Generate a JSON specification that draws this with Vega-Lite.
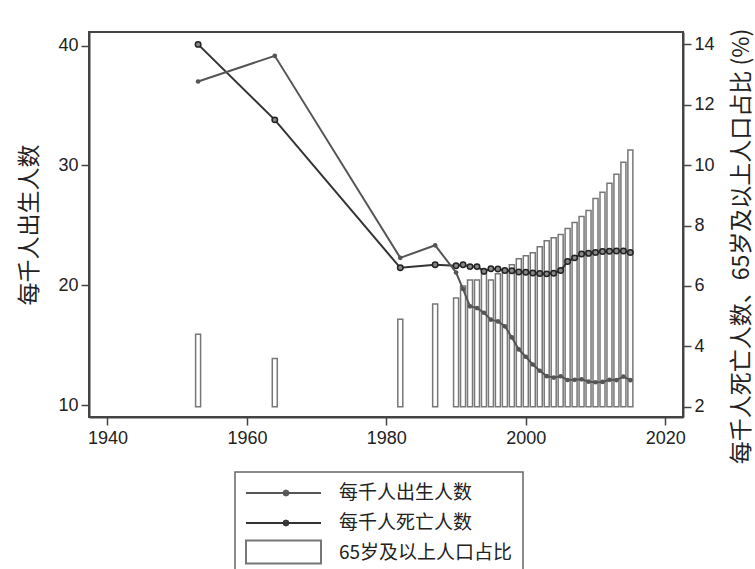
{
  "$schema": "https://vega.github.io/schema/vega-lite/v6.json",
  "autosize": {"type": "none"},
  "padding": {"left": 89, "top": 32, "right": 72, "bottom": 152},
  "width": 594,
  "height": 385,
  "background": "white",
  "config": {
    "view": {"stroke": "#444", "strokeWidth": 2},
    "axis": {
      "grid": false,
      "domainColor": "#444",
      "domainWidth": 2,
      "tickColor": "#444",
      "tickWidth": 1.5,
      "tickSize": 8,
      "labelFont": "Liberation Sans",
      "labelFontSize": 18,
      "labelColor": "#222",
      "titleFont": "Noto Sans CJK SC",
      "titleFontSize": 23,
      "titleFontWeight": "normal",
      "titleColor": "#222"
    },
    "legend": {"strokeWidth": 1.5}
  },
  "data": {
    "values": [
      {"year": 1953, "birth": 37.0, "death": 14.0, "pct": 4.4},
      {"year": 1964, "birth": 39.14, "death": 11.5, "pct": 3.6},
      {"year": 1982, "birth": 22.28, "death": 6.6, "pct": 4.9},
      {"year": 1987, "birth": 23.33, "death": 6.7, "pct": 5.4},
      {"year": 1990, "birth": 21.06, "death": 6.67, "pct": 5.6},
      {"year": 1991, "birth": 19.68, "death": 6.7, "pct": 6.0},
      {"year": 1992, "birth": 18.24, "death": 6.64, "pct": 6.2},
      {"year": 1993, "birth": 18.09, "death": 6.64, "pct": 6.2},
      {"year": 1994, "birth": 17.7, "death": 6.49, "pct": 6.4},
      {"year": 1995, "birth": 17.12, "death": 6.57, "pct": 6.2},
      {"year": 1996, "birth": 16.98, "death": 6.56, "pct": 6.4},
      {"year": 1997, "birth": 16.57, "death": 6.51, "pct": 6.5},
      {"year": 1998, "birth": 15.64, "death": 6.5, "pct": 6.7},
      {"year": 1999, "birth": 14.64, "death": 6.46, "pct": 6.9},
      {"year": 2000, "birth": 14.03, "death": 6.45, "pct": 7.0},
      {"year": 2001, "birth": 13.38, "death": 6.43, "pct": 7.1},
      {"year": 2002, "birth": 12.86, "death": 6.41, "pct": 7.3},
      {"year": 2003, "birth": 12.41, "death": 6.4, "pct": 7.5},
      {"year": 2004, "birth": 12.29, "death": 6.42, "pct": 7.6},
      {"year": 2005, "birth": 12.4, "death": 6.51, "pct": 7.7},
      {"year": 2006, "birth": 12.09, "death": 6.81, "pct": 7.9},
      {"year": 2007, "birth": 12.1, "death": 6.93, "pct": 8.1},
      {"year": 2008, "birth": 12.14, "death": 7.06, "pct": 8.3},
      {"year": 2009, "birth": 11.95, "death": 7.08, "pct": 8.5},
      {"year": 2010, "birth": 11.9, "death": 7.11, "pct": 8.9},
      {"year": 2011, "birth": 11.93, "death": 7.14, "pct": 9.1},
      {"year": 2012, "birth": 12.1, "death": 7.15, "pct": 9.4},
      {"year": 2013, "birth": 12.08, "death": 7.16, "pct": 9.7},
      {"year": 2014, "birth": 12.37, "death": 7.16, "pct": 10.1},
      {"year": 2015, "birth": 12.07, "death": 7.11, "pct": 10.5}
    ]
  },
  "encoding": {
    "x": {
      "field": "year",
      "type": "quantitative",
      "scale": {"domain": [1938.07, 2021.83], "nice": false, "zero": false},
      "axis": {"values": [1940, 1960, 1980, 2000, 2020], "format": "d", "title": null, "labelPadding": 4}
    }
  },
  "layer": [
    {
      "layer": [
        {
          "mark": {"type": "bar", "width": 5, "strokeWidth": 1.5},
          "encoding": {
            "y": {
              "field": "pct",
              "type": "quantitative",
              "title": "每千人死亡人数、65岁及以上人口占比 (%)",
              "scale": {"domain": [1.66, 14.41], "nice": false, "zero": false},
              "axis": {
                "orient": "right",
                "values": [2, 4, 6, 8, 10, 12, 14],
                "titleAngle": 270,
                "titleBaseline": "top",
                "titlePadding": 16,
                "labelPadding": 3,
                "titleY": 214
              }
            },
            "y2": {"datum": 2},
            "stroke": {
              "datum": "65岁及以上人口占比",
              "type": "nominal",
              "scale": {
                "domain": ["每千人出生人数", "每千人死亡人数", "65岁及以上人口占比"],
                "range": ["#555555", "#333333", "#777777"]
              },
              "legend": {
                "orient": "none",
                "legendX": 146,
                "legendY": 440,
                "zindex": 1,
                "title": null,
                "padding": 10,
                "strokeColor": "#666",
                "fillColor": "white",
                "symbolType": "M-1,0L6.5,0M3.25,0L3.18,0.18L3,0.25L2.82,0.18L2.75,0L2.82,-0.18L3,-0.25L3.18,-0.18Z",
                "symbolSize": 400,
                "symbolFillColor": "#555",
                "symbolStrokeWidth": 2,
                "labelOffset": 72,
                "labelFontSize": 19,
                "labelFont": "Noto Sans CJK SC",
                "labelColor": "#222",
                "labelLimit": 400,
                "rowPadding": 9
              }
            },
            "fill": {
              "datum": "65岁及以上人口占比",
              "type": "nominal",
              "scale": {"range": ["white"]},
              "legend": {
                "orient": "none",
                "legendX": 156,
                "legendY": 509,
                "zindex": 2,
                "title": null,
                "padding": 0,
                "symbolType": "M-1,-1.15L6.5,-1.15L6.5,1.15L-1,1.15Z",
                "symbolSize": 400,
                "symbolStrokeColor": "#777",
                "symbolStrokeWidth": 2,
                "labelOffset": 72,
                "labelFontSize": 19,
                "labelFont": "Noto Sans CJK SC",
                "labelExpr": "''",
                "labelLimit": 400
              }
            }
          }
        },
        {
          "mark": {"type": "line", "strokeWidth": 2},
          "encoding": {
            "y": {"field": "death", "type": "quantitative", "title": "每千人死亡人数、65岁及以上人口占比 (%)"},
            "stroke": {"datum": "每千人死亡人数", "type": "nominal"}
          }
        },
        {
          "mark": {"type": "point", "filled": false, "fill": "#888", "stroke": "#222", "strokeWidth": 1.5, "size": 30, "opacity": 1},
          "encoding": {
            "y": {"field": "death", "type": "quantitative", "title": "每千人死亡人数、65岁及以上人口占比 (%)"}
          }
        }
      ]
    },
    {
      "layer": [
        {
          "mark": {"type": "line", "strokeWidth": 2},
          "encoding": {
            "y": {
              "field": "birth",
              "type": "quantitative",
              "title": "每千人出生人数",
              "scale": {"domain": [9.0, 41.13], "nice": false, "zero": false},
              "axis": {
                "orient": "left",
                "values": [10, 20, 30, 40],
                "titlePadding": 16,
                "labelPadding": 3
              }
            },
            "stroke": {"datum": "每千人出生人数", "type": "nominal"}
          }
        },
        {
          "mark": {"type": "circle", "color": "#555", "size": 22, "opacity": 1},
          "encoding": {
            "y": {"field": "birth", "type": "quantitative", "title": "每千人出生人数"}
          }
        }
      ]
    }
  ],
  "resolve": {"scale": {"y": "independent"}}
}
